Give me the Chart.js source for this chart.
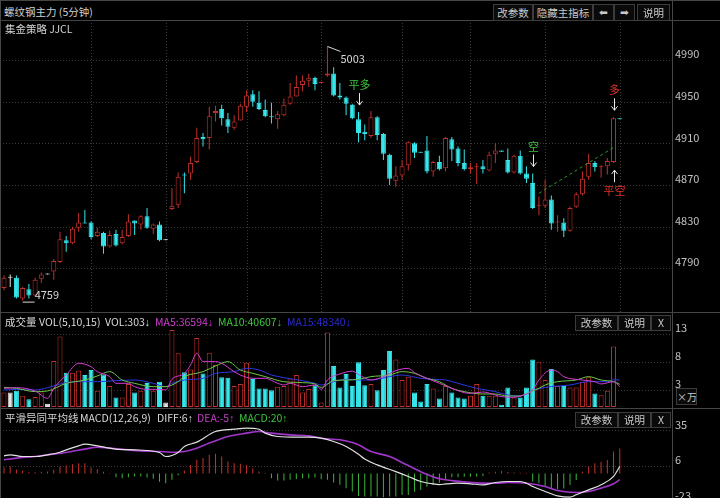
<!DOCTYPE html>
<html>
<head>
<meta charset="utf-8">
<script src="https://cdn.jsdelivr.net/npm/chart.js@4.4.1/dist/chart.umd.min.js"></script>
<style>
html, body { margin: 0; padding: 0; background: #000; width: 720px; height: 498px; overflow: hidden; }
body { position: relative; font-family: "Noto Sans CJK SC", "DejaVu Sans", sans-serif; color: #d2d2d2; }
canvas { position: absolute; left: 0; }
.t { position: absolute; font-size: 10.5px; line-height: 14px; white-space: nowrap; z-index: 3; }
.t .ar { font-family: "Liberation Sans", sans-serif; }
.btn { position: absolute; border: 1px solid #3c3c3c; background: #0a0a0a; color: #c8c8c8; font-size: 10.5px;
       text-align: center; box-sizing: border-box; z-index: 3; white-space: nowrap; overflow: hidden; }
.hl { position: absolute; left: 0; width: 720px; height: 1px; background: #454545; z-index: 2; }
.vl { position: absolute; top: 0; width: 1px; height: 498px; background: #454545; z-index: 2; }
</style>
</head>
<body>
<canvas id="price" width="720" height="292" style="top:20px"></canvas>
<canvas id="vol" width="720" height="95" style="top:312px"></canvas>
<canvas id="macd" width="720" height="100" style="top:408px"></canvas>

<div class="hl" style="top:0"></div>
<div class="hl" style="top:20px"></div>
<div class="hl" style="top:312px"></div>
<div class="hl" style="top:408px"></div>
<div class="vl" style="left:0"></div>
<div class="vl" style="left:672px"></div>

<div class="t" style="left:4px;top:5px">螺纹钢主力 (5分钟)</div>
<div class="t" style="left:5px;top:22px">集金策略 JJCL</div>

<div class="btn" style="left:493px;top:4px;width:40px;height:17px;line-height:15px">改参数</div>
<div class="btn" style="left:533px;top:4px;width:60px;height:17px;line-height:15px">隐藏主指标</div>
<div class="btn" style="left:593px;top:4px;width:21px;height:17px;line-height:15px;font-family:'DejaVu Sans'">⬅</div>
<div class="btn" style="left:614px;top:4px;width:21px;height:17px;line-height:15px;font-family:'DejaVu Sans'">➡</div>
<div class="btn" style="left:637px;top:4px;width:33px;height:17px;line-height:15px">说明</div>

<div id="volHead"></div>
<div class="btn" style="left:575px;top:315px;width:43px;height:16px;line-height:14px">改参数</div>
<div class="btn" style="left:618px;top:315px;width:33px;height:16px;line-height:14px">说明</div>
<div class="btn" style="left:651px;top:315px;width:20px;height:16px;line-height:14px">X</div>
<div class="btn" style="left:676px;top:388px;width:21px;height:17px;line-height:15px;font-size:10px">×万</div>

<div id="macdHead"></div>
<div class="btn" style="left:575px;top:412px;width:43px;height:16px;line-height:14px">改参数</div>
<div class="btn" style="left:618px;top:412px;width:33px;height:16px;line-height:14px">说明</div>
<div class="btn" style="left:651px;top:412px;width:20px;height:16px;line-height:14px">X</div>

<script>
// 5-minute candles, one per bar
const opens = [4771,4781,4781,4761,4770,4764,4780,4784,4787,4796, 4817,4814,4829,4834,4834,4821,4824,4811,4823,4814,
  4821,4836,4832,4840,4828,4832,4817,4847,4851,4880, 4881,4892,4916,4915,4939,4943,4933,4925,4932,4945,
  4957,4949,4942,4936,4933,4937,4948,4955,4966,4970, 4973,4968,4975,4977,4956,4954,4947,4933,4921,4917,
  4935,4919,4899,4874,4879,4889,4910,4902,4903,4883, 4892,4886,4914,4905,4891,4885,4887,4888,4884,4900,
  4903,4894,4882,4898,4881,4872,4850,4850,4856,4834, 4834,4826,4849,4861,4878,4891,4887,4888,4892,4934];
const highs = [4783,4784,4783,4772,4775,4781,4786,4784,4799,4825, 4821,4830,4843,4846,4835,4829,4825,4826,4827,4827,
  4842,4836,4841,4848,4833,4835,4817,4867,4882,4882, 4897,4925,4920,4945,4946,4947,4939,4937,4948,4961,
  4961,4960,4952,4949,4941,4953,4968,4975,4975,4977, 4974,4969,5003,4983,4968,4955,4948,4940,4928,4941,
  4936,4920,4900,4888,4894,4912,4911,4902,4917,4893, 4898,4916,4916,4907,4904,4891,4891,4894,4902,4910,
  4903,4905,4899,4903,4888,4881,4859,4875,4860,4841, 4838,4849,4863,4883,4900,4893,4889,4896,4935,4934];
const lows = [4769,4772,4761,4759,4761,4763,4776,4784,4779,4795, 4806,4813,4825,4833,4818,4820,4804,4810,4811,4813,
  4820,4822,4827,4828,4823,4816,4817,4846,4848,4862, 4875,4891,4907,4904,4931,4927,4920,4923,4932,4940,
  4945,4942,4935,4929,4924,4936,4947,4955,4960,4964, 4961,4968,4974,4955,4952,4937,4933,4911,4913,4915,
  4913,4894,4870,4868,4875,4884,4896,4901,4881,4878, 4884,4883,4893,4888,4884,4881,4871,4881,4883,4891,
  4902,4881,4881,4880,4872,4847,4841,4848,4827,4825, 4820,4825,4848,4860,4875,4883,4877,4880,4891,4933];
const closes = [4781,4781,4762,4771,4764,4779,4784,4784,4797,4818, 4814,4828,4834,4833,4820,4825,4811,4822,4812,4820,
  4835,4833,4840,4829,4832,4817,4817,4850,4878,4879, 4891,4915,4914,4936,4941,4934,4926,4931,4946,4956,
  4950,4943,4936,4935,4938,4947,4955,4964,4970,4973, 4967,4969,4977,4956,4954,4948,4934,4920,4919,4935,
  4918,4900,4876,4879,4888,4911,4901,4901,4883,4892, 4885,4915,4904,4891,4885,4887,4888,4885,4899,4903,
  4902,4882,4898,4881,4876,4848,4851,4856,4833,4835, 4826,4848,4861,4876,4891,4887,4888,4893,4934,4933];

// volume (contracts) per bar
const volumes = [26000,26000,29000,20000,14000,18000,26000,6000,82000,126000, 61000,61000,65000,57000,66000,29000,58000,37500,17000,17000,
  41000,26000,29000,43000,29000,45000,8000,137500,96000,62000, 67000,123000,60000,97000,75000,53000,52000,37500,41000,79000,
  50000,33000,33000,30000,36000,37500,51000,57000,26000,32000, 39000,8000,133000,73000,35000,59000,37500,80000,39000,41000,
  30000,66000,100000,85000,48000,54000,26000,10000,41000,33000, 15000,37500,26000,17000,15000,20000,41000,20000,20000,20000,
  4000,35000,17000,17000,35000,85000,81000,48000,68000,37500, 37500,35000,35000,45000,53000,24000,21000,29000,108000,303];

// volume moving averages: [bar, value]
const ma5Pts = [[0,33300],[2,34500],[5,28600],[7,15500],[8,33300],[10,57100],[12,78000],[14,72000],[15,63100],[17,54200],
  [18,42300],[20,42300],[21,36300],[23,31500],[25,31500],[26,30400],[27,49400],[29,60100],[30,75000],[31,95800],
  [32,81000],[34,81000],[35,78000],[37,63100],[38,57100],[40,51200],[42,51200],[44,42300],[45,39300],[46,42300],
  [48,36300],[50,39300],[51,31500],[52,48200],[54,58900],[56,64000],[57,58000],[59,48200],[61,54200],[63,64900],
  [65,69000],[66,61300],[68,51200],[70,42300],[72,33300],[74,25600],[75,24400],[77,26800],[79,21400],[80,18500],
  [82,17300],[83,19600],[85,30400],[86,48200],[88,66100],[89,63100],[90,54200],[93,48200],[95,45200],[96,41100],
  [98,45200],[99,36594]];
const ma10Pts = [[0,35100],[2,33300],[5,27400],[7,28600],[10,42300],[13,48200],[15,55400],[17,63100],[19,48200],[21,42300],
  [24,36300],[26,36300],[28,45200],[29,54200],[32,63100],[34,73200],[36,81000],[38,66100],[40,60100],[42,54200],
  [45,45200],[48,43500],[50,41100],[51,35100],[53,47000],[55,48200],[57,49400],[59,54200],[62,57100],[64,63100],
  [66,60100],[68,51200],[70,45200],[72,33300],[74,27400],[77,23200],[79,23200],[81,19600],[83,19600],[84,24400],
  [86,33300],[87,39300],[89,45200],[92,48200],[94,54200],[96,48200],[98,45200],[99,40607]];
const ma15Pts = [[0,30400],[2,31500],[5,30400],[7,34500],[10,43500],[13,45200],[15,45200],[18,47000],[21,48200],[24,42300],
  [26,36300],[27,42300],[29,48200],[32,51200],[34,60100],[37,63100],[39,69000],[41,66100],[43,57100],[45,52400],
  [48,47000],[50,42300],[51,39300],[53,45200],[55,49400],[57,48200],[59,48200],[62,54200],[64,57100],[67,51200],
  [69,49400],[71,48200],[73,42300],[76,33300],[79,27400],[81,21400],[83,19600],[85,29000],[87,35000],[91,39300],
  [94,45200],[97,45200],[98,48600],[99,48340]];

// MACD(12,26,9)
const diffPts = [[0,14.4],[1,15.2],[3,13.8],[5,13.8],[7,15.2],[9,17.3],[10,19.2],[12,22.5],[13,23.8],[15,22.5],
  [17,20.6],[18,19.8],[21,19.2],[23,18.7],[25,17.1],[26,13.8],[28,17.1],[29,22.0],[31,25.5],[34,34.1],
  [37,36.0],[39,36.9],[41,36.0],[42,32.8],[44,30.1],[47,29.5],[49,29.5],[51,28.7],[53,26.0],[55,22.0],
  [57,15.7],[58,11.7],[60,7.0],[63,1.5],[65,-2.4],[67,-6.5],[69,-8.5],[70,-9.0],[71,-8.5],[73,-7.9],
  [75,-8.4],[77,-9.2],[79,-7.3],[81,-6.5],[83,-6.5],[84,-7.9],[85,-10.6],[87,-14.6],[89,-18.2],[91,-19.2],
  [92,-17.3],[94,-13.3],[96,-9.2],[98,-2.4],[99,5.7]];
const deaPts = [[0,11.1],[2,12.5],[5,13.8],[7,15.2],[10,17.1],[13,19.8],[15,21.4],[17,20.6],[20,19.2],[22,18.4],
  [25,17.9],[27,17.3],[29,17.9],[31,20.6],[33,24.7],[36,30.1],[39,32.8],[41,34.1],[43,32.8],[46,31.4],
  [49,30.6],[51,28.7],[54,27.4],[56,25.2],[57,23.3],[59,17.9],[62,13.8],[64,9.0],[66,3.9],[68,-0.7],
  [70,-4.3],[72,-5.8],[74,-6.8],[76,-7.6],[79,-7.9],[81,-7.3],[84,-7.9],[87,-10.6],[89,-13.8],[92,-15.4],
  [94,-14.6],[96,-11.9],[98,-8.4],[99,-5.0]];
const macdHist = [5.1,5.7,3.0,2.4,1.1,1.1,1.4,1.6,3.0,5.7, 6.5,7.6,8.4,8.4,5.1,3.5,1.4,0.5,-3.0,-3.8,
  -3.0,-2.4,-2.4,-3.3,-4.3,-6.8,-7.9,-5.1,-1.4,2.4, 7.0,11.1,12.5,15.2,16.0,13.8,9.8,8.4,7.9,7.0,
  4.3,1.6,-0.5,-3.8,-5.7,-5.7,-5.1,-4.6,-3.8,-3.8, -3.3,-4.6,-5.1,-7.3,-9.2,-11.9,-14.6,-18.2,-18.8,-18.8,
  -18.8,-19.4,-18.8,-18.8,-17.5,-17.5,-14.8,-13.4,-10.7,-9.3, -7.5,-5.3,-3.1,-3.1,-2.6,-2.6,-2.6,-2.0,0.9,1.5,
  2.3,1.2,0.9,0.7,0.7,-6.6,-8.0,-10.2,-12.1,-12.9, -12.1,-9.3,-5.3,1.5,5.6,8.3,9.6,11.0,17.8,20.3];

// axis ticks and hour separators
const priceTicks = [4790, 4830, 4870, 4910, 4950, 4990];
const volTicks = [30000, 80000, 130000];
const macdTicks = [35, 6, -23];
const hourLines = [14, 26, 39, 51, 64, 75, 87, 99];

// trade signals and the dashed trend line
const signalBars = [57, 85, 98, 98];
const signalTexts = ['平多', '空', '多', '平空'];
const trendBars = [86, 98];
const trendPrices = [4862, 4906];

const FONT = '"Noto Sans CJK SC", "DejaVu Sans", sans-serif';
const RED = '#c4302b', CYAN = '#36e6ea', WHITE = '#e4e4e4';
const X_MIN = -0.643, X_MAX = 107.4, AXIS_W = 48;
const SIGNAL_STYLE = {
  '平多': { color: '#3cc43c', below: false },
  '空': { color: '#3cc43c', below: false },
  '多': { color: '#e0322c', below: false },
  '平空': { color: '#e0322c', below: true }
};

Chart.defaults.font.family = FONT;
const bars = opens.map((_, i) => i);
function candleColor(i) {
  return closes[i] > opens[i] ? RED : closes[i] < opens[i] ? CYAN : WHITE;
}
const pts = arr => arr.map(p => ({ x: p[0], y: p[1] }));

const paneGrid = {
  id: 'paneGrid',
  beforeDatasetsDraw(chart, args, opts) {
    const { ctx, chartArea: a, scales: { x, y } } = chart;
    ctx.save();
    ctx.strokeStyle = '#3a3a3a';
    ctx.lineWidth = 1;
    ctx.setLineDash([1, 2]);
    ctx.beginPath();
    (opts.yLines || []).forEach(v => {
      const py = Math.round(y.getPixelForValue(v)) + 0.5;
      ctx.moveTo(a.left, py); ctx.lineTo(a.right, py);
    });
    (opts.xLines || []).forEach(v => {
      const px = Math.round(x.getPixelForValue(v)) + 0.5;
      ctx.moveTo(px, a.top); ctx.lineTo(px, a.bottom);
    });
    ctx.stroke();
    ctx.restore();
  }
};

const priceMarks = {
  id: 'priceMarks',
  afterDatasetsDraw(chart) {
    const { ctx, scales: { x, y } } = chart;
    ctx.save();
    ctx.font = '11px ' + FONT;
    ctx.textBaseline = 'middle';
    ctx.strokeStyle = '#d8d8d8';
    ctx.fillStyle = '#d8d8d8';
    ctx.lineWidth = 1;

    // highest high
    const hiVal = Math.max(...highs), hiBar = highs.indexOf(hiVal);
    let px = x.getPixelForValue(hiBar), py = y.getPixelForValue(hiVal);
    ctx.beginPath(); ctx.moveTo(px, py); ctx.lineTo(px + 13, py + 5); ctx.stroke();
    ctx.textAlign = 'left';
    ctx.fillText(String(hiVal), px + 13, py + 12);

    // lowest low
    const loVal = Math.min(...lows), loBar = lows.indexOf(loVal);
    px = x.getPixelForValue(loBar); py = y.getPixelForValue(loVal);
    ctx.beginPath(); ctx.moveTo(px, py + 1.5); ctx.lineTo(px + 12, py + 1.5); ctx.stroke();
    ctx.fillText(String(loVal), px + 12, py - 6);

    // signals
    ctx.textAlign = 'center';
    signalBars.forEach((b, k) => {
      const txt = signalTexts[k], st = SIGNAL_STYLE[txt];
      const cx = Math.round(x.getPixelForValue(b)) + 0.5;
      let tip, tail, ty;
      if (st.below) {
        const bot = y.getPixelForValue(lows[b]);
        tip = bot + 7; tail = bot + 19; ty = bot + 28;
      } else {
        const top = y.getPixelForValue(highs[b]);
        tip = top - 7; tail = top - 19; ty = top - 27;
      }
      const d = tip > tail ? -4 : 4;
      ctx.strokeStyle = '#e8e8e8';
      ctx.beginPath();
      ctx.moveTo(cx, tail); ctx.lineTo(cx, tip);
      ctx.moveTo(cx - 3, tip + d); ctx.lineTo(cx, tip); ctx.lineTo(cx + 3, tip + d);
      ctx.stroke();
      ctx.fillStyle = st.color;
      ctx.fillText(txt, cx, ty);
    });
    ctx.restore();
  }
};

function paneOptions(yMin, yMax, ticks, fmt, grid) {
  return {
    responsive: false,
    animation: false,
    events: [],
    layout: { padding: 0 },
    plugins: { legend: { display: false }, tooltip: { enabled: false }, paneGrid: grid },
    scales: {
      x: { type: 'linear', min: X_MIN, max: X_MAX, offset: false, display: false, grid: { offset: false } },
      y: {
        position: 'right', min: yMin, max: yMax,
        grid: { display: false, drawTicks: false },
        border: { display: false },
        afterBuildTicks: s => { s.ticks = ticks.map(v => ({ value: v })); },
        afterFit: s => { s.width = AXIS_W; s.paddingTop = 0; s.paddingBottom = 0; },
        ticks: { color: '#c2c2c2', font: { size: 11 }, padding: 3, labelOffset: -6, callback: fmt }
      }
    }
  };
}

// price pane
new Chart(document.getElementById('price'), {
  type: 'bar',
  data: {
    datasets: [
      {
        type: 'line', data: trendBars.map((b, k) => ({ x: b, y: trendPrices[k] })),
        borderColor: '#2f9a2f', borderWidth: 1, borderDash: [3, 3], pointRadius: 0, order: 0
      },
      {
        data: bars.map(i => ({ x: i, y: [opens[i], closes[i]] })),
        backgroundColor: bars.map(i => closes[i] > opens[i] ? '#000' : candleColor(i)),
        borderColor: bars.map(candleColor), borderWidth: 1, borderSkipped: false,
        barThickness: 5, minBarLength: 1, grouped: false, inflateAmount: 0, order: 1
      },
      {
        data: bars.map(i => ({ x: i, y: [lows[i], highs[i]] })),
        backgroundColor: bars.map(candleColor), borderWidth: 0,
        barThickness: 1, minBarLength: 1, grouped: false, inflateAmount: 0, order: 2
      }
    ]
  },
  options: paneOptions(4748.05, 5028.4, priceTicks, v => String(v), { yLines: priceTicks, xLines: hourLines }),
  plugins: [paneGrid, priceMarks]
});

// volume pane
new Chart(document.getElementById('vol'), {
  type: 'bar',
  data: {
    datasets: [
      { type: 'line', data: pts(ma5Pts), borderColor: '#d63cd6', borderWidth: 1, pointRadius: 0, cubicInterpolationMode: 'monotone', order: 0 },
      { type: 'line', data: pts(ma10Pts), borderColor: '#6cc848', borderWidth: 1, pointRadius: 0, cubicInterpolationMode: 'monotone', order: 0 },
      { type: 'line', data: pts(ma15Pts), borderColor: '#2c38e0', borderWidth: 1, pointRadius: 0, cubicInterpolationMode: 'monotone', order: 0 },
      {
        data: bars.map(i => ({ x: i, y: volumes[i] })),
        backgroundColor: bars.map(i => closes[i] > opens[i] ? '#000' : candleColor(i)),
        borderColor: bars.map(candleColor), borderWidth: 1, borderSkipped: false,
        barThickness: 5, grouped: false, inflateAmount: 0, order: 1
      }
    ]
  },
  options: paneOptions(0, 169600, volTicks, v => String(v / 10000), { yLines: volTicks }),
  plugins: [paneGrid]
});

// MACD pane
new Chart(document.getElementById('macd'), {
  type: 'bar',
  data: {
    datasets: [
      { type: 'line', data: pts(diffPts), borderColor: '#e2e2e2', borderWidth: 1.2, pointRadius: 0, cubicInterpolationMode: 'monotone', order: 0 },
      { type: 'line', data: pts(deaPts), borderColor: '#a236cc', borderWidth: 1.6, pointRadius: 0, cubicInterpolationMode: 'monotone', order: 0 },
      {
        data: bars.map(i => ({ x: i, y: macdHist[i] })),
        backgroundColor: bars.map(i => macdHist[i] >= 0 ? '#c8322c' : '#3cb43c'),
        barThickness: 1, grouped: false, inflateAmount: 0, order: 1
      }
    ]
  },
  options: paneOptions(-28.05, 53.25, macdTicks, v => String(v), { yLines: macdTicks }),
  plugins: [paneGrid]
});

// pane headers, built from the last values
function trend(prev, last) { return last > prev ? '↑' : '↓'; }
function header(id, top, parts) {
  const host = document.getElementById(id);
  parts.forEach(p => {
    const d = document.createElement('div');
    d.className = 't';
    d.style.left = p[0] + 'px';
    d.style.top = top + 'px';
    d.style.color = p[2];
    d.appendChild(document.createTextNode(p[1]));
    if (p[3]) {
      const s = document.createElement('span');
      s.className = 'ar';
      s.textContent = p[3];
      d.appendChild(s);
    }
    host.appendChild(d);
  });
}
const lastOf = a => a[a.length - 1][1], prevOf = a => a[a.length - 2][1];
const n = volumes.length;
header('volHead', 314.5, [
  [5, '成交量', '#d8d8d8'],
  [39, 'VOL(5,10,15)', '#d8d8d8'],
  [105, 'VOL:' + volumes[n - 1], '#d8d8d8', trend(volumes[n - 2], volumes[n - 1])],
  [155, 'MA5:' + lastOf(ma5Pts), '#d03cd0', trend(prevOf(ma5Pts), lastOf(ma5Pts))],
  [218, 'MA10:' + lastOf(ma10Pts), '#3cc83c', trend(prevOf(ma10Pts), lastOf(ma10Pts))],
  [287, 'MA15:' + lastOf(ma15Pts), '#2a2ad0', trend(prevOf(ma15Pts), lastOf(ma15Pts))]
]);
header('macdHead', 410.5, [
  [5, '平滑异同平均线', '#d8d8d8'],
  [80, 'MACD(12,26,9)', '#d8d8d8'],
  [157, 'DIFF:' + Math.round(lastOf(diffPts)), '#d8d8d8', trend(prevOf(diffPts), lastOf(diffPts))],
  [197, 'DEA:' + Math.round(lastOf(deaPts)), '#c63cc6', trend(prevOf(deaPts), lastOf(deaPts))],
  [239, 'MACD:' + Math.round(macdHist[n - 1]), '#3cc03c', trend(macdHist[n - 2], macdHist[n - 1])]
]);
</script>
</body>
</html>
